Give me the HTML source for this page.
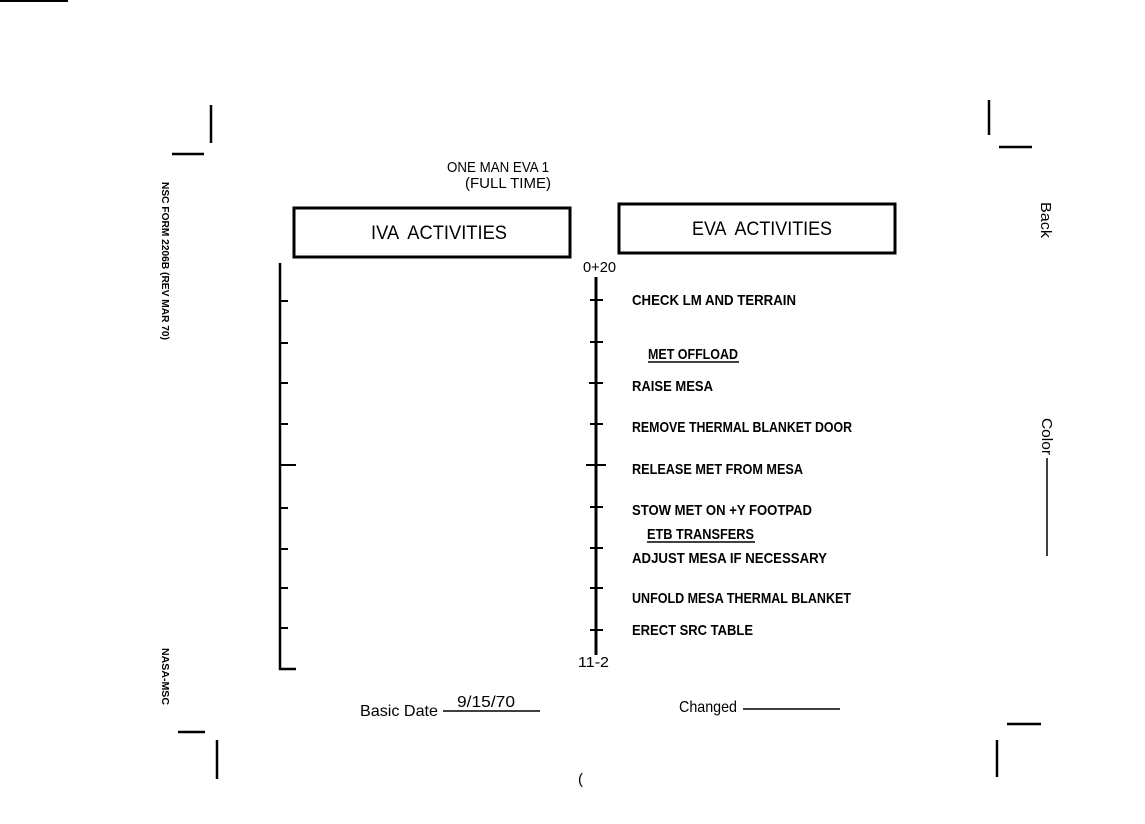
<!DOCTYPE html>
<html><head><meta charset="utf-8"><style>
html,body{margin:0;padding:0;background:#fff;}
svg{display:block;}
text{white-space:pre;}
.t{font-family:"Liberation Sans",sans-serif;font-size:15px;fill:#000;}
.m{font-family:"Liberation Sans",sans-serif;font-size:15px;fill:#000;font-weight:bold;}
</style></head><body>
<svg width="1145" height="824" viewBox="0 0 1145 824" xmlns="http://www.w3.org/2000/svg">
<g stroke="#000" fill="none">
<line x1="0" y1="1" x2="68" y2="1" stroke-width="2"/>
<line x1="211" y1="105" x2="211" y2="143" stroke-width="2.5"/>
<line x1="172" y1="154" x2="204" y2="154" stroke-width="2.5"/>
<line x1="989" y1="100" x2="989" y2="135" stroke-width="2.5"/>
<line x1="999" y1="147" x2="1032" y2="147" stroke-width="2.5"/>
<line x1="178" y1="732" x2="205" y2="732" stroke-width="2.5"/>
<line x1="217" y1="740" x2="217" y2="779" stroke-width="2.5"/>
<line x1="1007" y1="724" x2="1041" y2="724" stroke-width="2.5"/>
<line x1="997" y1="740" x2="997" y2="777" stroke-width="2.5"/>
<rect x="294" y="208" width="276" height="49" stroke-width="3"/>
<rect x="619" y="204" width="276" height="49" stroke-width="3"/>
<line x1="280" y1="263" x2="280" y2="670" stroke-width="2.5"/>
<line x1="279" y1="669" x2="296" y2="669" stroke-width="2.5"/>
<g stroke-width="2">
<line x1="280" y1="301" x2="288" y2="301"/><line x1="280" y1="343" x2="288" y2="343"/>
<line x1="280" y1="383" x2="288" y2="383"/><line x1="280" y1="424" x2="288" y2="424"/>
<line x1="280" y1="465" x2="296" y2="465"/><line x1="280" y1="508" x2="288" y2="508"/>
<line x1="280" y1="549" x2="288" y2="549"/><line x1="280" y1="588" x2="288" y2="588"/>
<line x1="280" y1="628" x2="288" y2="628"/>
</g>
<line x1="596" y1="277" x2="596" y2="655" stroke-width="3"/>
<g stroke-width="2">
<line x1="590" y1="300" x2="603" y2="300"/><line x1="590" y1="342" x2="603" y2="342"/>
<line x1="589" y1="383" x2="603" y2="383"/><line x1="590" y1="424" x2="603" y2="424"/>
<line x1="586" y1="465" x2="606" y2="465"/><line x1="590" y1="507" x2="603" y2="507"/>
<line x1="590" y1="548" x2="603" y2="548"/><line x1="590" y1="588" x2="603" y2="588"/>
<line x1="590" y1="630" x2="603" y2="630"/>
</g>
<line x1="648" y1="362" x2="739" y2="362" stroke-width="1.5"/>
<line x1="647" y1="542" x2="755" y2="542" stroke-width="1.5"/>
<line x1="443" y1="711" x2="540" y2="711" stroke-width="1.5"/>
<line x1="743" y1="709" x2="840" y2="709" stroke-width="1.5"/>
<line x1="1047" y1="458" x2="1047" y2="556" stroke-width="1.5"/>
</g>
<text class="t" x="447" y="172" textLength="102" lengthAdjust="spacingAndGlyphs">ONE MAN EVA 1</text>
<text class="t" x="465" y="188" textLength="86" lengthAdjust="spacingAndGlyphs">(FULL TIME)</text>
<text class="t" x="371" y="239" textLength="136" lengthAdjust="spacingAndGlyphs" style="font-size:19px">IVA  ACTIVITIES</text>
<text class="t" x="692" y="235" textLength="140" lengthAdjust="spacingAndGlyphs" style="font-size:19px">EVA  ACTIVITIES</text>
<text class="t" x="583" y="272" textLength="33" lengthAdjust="spacingAndGlyphs">0+20</text>
<text class="t" x="578" y="667" textLength="31" lengthAdjust="spacingAndGlyphs">11-2</text>
<text class="m" x="632" y="305" textLength="164" lengthAdjust="spacingAndGlyphs">CHECK LM AND TERRAIN</text>
<text class="m" x="648" y="359" textLength="90" lengthAdjust="spacingAndGlyphs">MET OFFLOAD</text>
<text class="m" x="632" y="391" textLength="81" lengthAdjust="spacingAndGlyphs">RAISE MESA</text>
<text class="m" x="632" y="432" textLength="220" lengthAdjust="spacingAndGlyphs">REMOVE THERMAL BLANKET DOOR</text>
<text class="m" x="632" y="474" textLength="171" lengthAdjust="spacingAndGlyphs">RELEASE MET FROM MESA</text>
<text class="m" x="632" y="515" textLength="180" lengthAdjust="spacingAndGlyphs">STOW MET ON +Y FOOTPAD</text>
<text class="m" x="647" y="539" textLength="107" lengthAdjust="spacingAndGlyphs">ETB TRANSFERS</text>
<text class="m" x="632" y="563" textLength="195" lengthAdjust="spacingAndGlyphs">ADJUST MESA IF NECESSARY</text>
<text class="m" x="632" y="603" textLength="219" lengthAdjust="spacingAndGlyphs">UNFOLD MESA THERMAL BLANKET</text>
<text class="m" x="632" y="635" textLength="121" lengthAdjust="spacingAndGlyphs">ERECT SRC TABLE</text>
<text class="t" x="360" y="716" textLength="78" lengthAdjust="spacingAndGlyphs" style="font-size:16px">Basic Date</text>
<text class="t" x="457" y="707" textLength="58" lengthAdjust="spacingAndGlyphs" style="font-size:16px">9/15/70</text>
<text class="t" x="679" y="712" textLength="58" lengthAdjust="spacingAndGlyphs" style="font-size:16px">Changed</text>
<text class="t" x="578" y="784">(</text>
<text class="m" transform="translate(162,182) rotate(90)" textLength="158" lengthAdjust="spacingAndGlyphs" style="font-size:10px">NSC FORM 2206B (REV MAR 70)</text>
<text class="m" transform="translate(162,648) rotate(90)" textLength="57" lengthAdjust="spacingAndGlyphs" style="font-size:10px">NASA-MSC</text>
<text class="t" transform="translate(1041,202) rotate(90)" textLength="36" lengthAdjust="spacingAndGlyphs">Back</text>
<text class="t" transform="translate(1042,418) rotate(90)" textLength="37" lengthAdjust="spacingAndGlyphs">Color</text>
</svg>
</body></html>
